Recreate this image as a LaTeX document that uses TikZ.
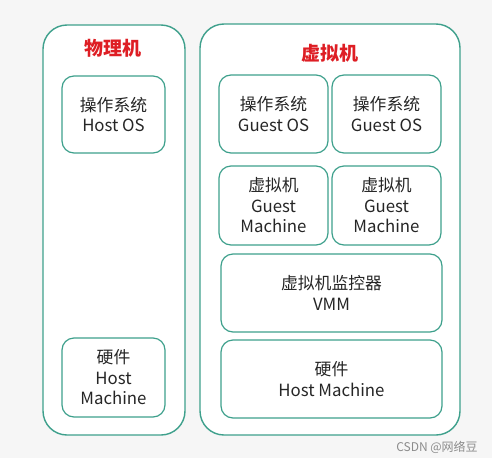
\documentclass[tikz,border=0pt]{standalone}
\usepackage{fontspec}
\setmainfont{Noto Sans CJK SC}
\definecolor{boxgreen}{RGB}{62,160,140}
\definecolor{titlered}{RGB}{222,30,36}
\definecolor{bggray}{RGB}{246,246,246}

\tikzset{
    outerbox/.style={draw=boxgreen, line width=1.4pt, rounded corners=24pt, fill=white},
    innerbox/.style={draw=boxgreen, line width=1.2pt, rounded corners=12pt, fill=white,
        align=center, inner sep=0pt, text=black!85, font=\fontsize{16.8}{20.5}\selectfont},
    boxtitle/.style={text=titlered, font=\bfseries\fontsize{19}{23}\selectfont}
}

\begin{document}
\begin{tikzpicture}[x=1pt,y=-1pt] % pixel like units, y going down
        % background
        \fill[bggray] (0,0) rectangle (492,458);
        \useasboundingbox (0,0) rectangle (492,458);
        % outer frames
        \draw[outerbox] (43,25) rectangle (185,435);
        \draw[outerbox] (200,24) rectangle (460,435);
        \node[boxtitle] (phystitle) at (113,48) {物理机};
        \node[boxtitle] (virttitle) at (330,53) {虚拟机};
        % physical machine
        \node[innerbox, minimum width=103pt, minimum height=77pt] (hostos) at (113.5,114.5) {操作系统\\Host OS};
        \node[innerbox, minimum width=103pt, minimum height=79pt] (hosthw) at (113.5,377.5) {硬件\\Host\\Machine};
        % virtual machine
        \node[innerbox, minimum width=109pt, minimum height=78pt] (guestosa) at (273.5,114) {操作系统\\Guest OS};
        \node[innerbox, minimum width=109pt, minimum height=78pt] (guestosb) at (386.5,114) {操作系统\\Guest OS};
        \node[innerbox, minimum width=109pt, minimum height=79pt] (guesta) at (273.5,205.5) {虚拟机\\Guest\\Machine};
        \node[innerbox, minimum width=109pt, minimum height=79pt] (guestb) at (386.5,205.5) {虚拟机\\Guest\\Machine};
        \node[innerbox, minimum width=221pt, minimum height=78pt] (vmm) at (331.5,293) {虚拟机监控器\\VMM};
        \node[innerbox, minimum width=221pt, minimum height=78pt] (vmhw) at (331.5,379) {硬件\\Host Machine};
        % watermark
        \node[text=black!45, font=\fontsize{12}{14}\selectfont] (mark) at (437,447) {CSDN @网络豆};
\end{tikzpicture}
\end{document}
